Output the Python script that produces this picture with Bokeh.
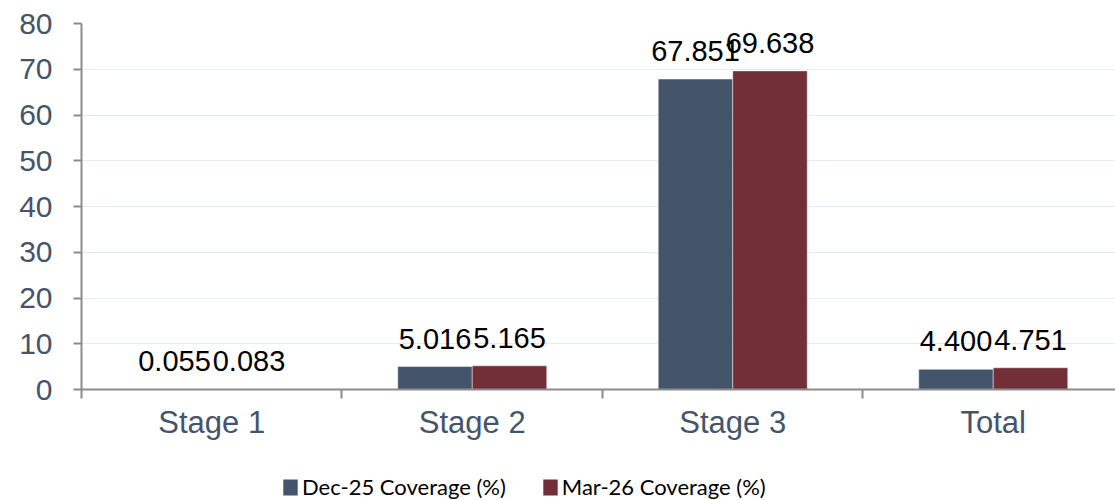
from bokeh.plotting import figure
from bokeh.layouts import column
from bokeh.models import (Range1d, FixedTicker, ColumnDataSource, LabelSet,
                          Legend, LegendItem)
from bokeh.core.properties import value
from bokeh.transform import dodge
from bokeh.embed import file_html
from bokeh.resources import INLINE

# Coverage by stage, two reporting dates
categories = ["Stage 1", "Stage 2", "Stage 3", "Total"]
dec25 = [0.055, 5.016, 67.851, 4.400]
mar26 = [0.083, 5.165, 69.638, 4.751]
series_names = ["Dec-25 Coverage (%)", "Mar-26 Coverage (%)"]
y_ticks = [0, 10, 20, 30, 40, 50, 60, 70, 80]

DEC_COLOR = "#44546a"
MAR_COLOR = "#722f37"
AXIS_COLOR = "#8c8c8c"
TICK_TEXT = "#44546a"
BAR_W = 0.286

centers = [i + 0.5 for i in range(len(categories))]
bounds = [float(i) for i in range(len(categories))]

src = ColumnDataSource(dict(
    x=centers,
    dec=dec25,
    mar=mar26,
    dec_lbl=[f"{v:.3f}" for v in dec25],
    mar_lbl=[f"{v:.3f}" for v in mar26],
))

p = figure(width=1115, height=460, output_backend="svg", toolbar_location=None,
           x_range=Range1d(0, 3.9693), y_range=Range1d(0, 80),
           min_border_left=81, min_border_right=0, min_border_top=23,
           min_border_bottom=71)
p.outline_line_color = None
p.background_fill_color = "white"
p.border_fill_color = "white"

bar_line = dict(line_color="white", line_alpha=0.45, line_width=1)
r_dec = p.vbar(x=dodge("x", -BAR_W / 2), top="dec", width=BAR_W, source=src,
               fill_color=DEC_COLOR, **bar_line)
r_mar = p.vbar(x=dodge("x", BAR_W / 2), top="mar", width=BAR_W, source=src,
               fill_color=MAR_COLOR, **bar_line)

label_style = dict(text_font=value("Liberation Sans"), text_font_size=value("29px"),
                   text_color="#000000", text_align="center",
                   text_baseline="alphabetic", y_offset=18)
p.add_layout(LabelSet(x=dodge("x", -BAR_W / 2), y="dec", text="dec_lbl",
                      source=src, **label_style))
p.add_layout(LabelSet(x=dodge("x", BAR_W / 2), y="mar", text="mar_lbl",
                      source=src, **label_style))

# grid
p.xgrid.grid_line_color = None
p.ygrid.ticker = FixedTicker(ticks=y_ticks)
p.ygrid.grid_line_color = "#e6eaf3"
p.ygrid.grid_line_width = 1

# y axis
p.yaxis.ticker = FixedTicker(ticks=y_ticks)
p.yaxis.axis_line_color = AXIS_COLOR
p.yaxis.axis_line_width = 2
p.yaxis.major_tick_line_color = AXIS_COLOR
p.yaxis.major_tick_line_width = 2
p.yaxis.major_tick_out = 8
p.yaxis.major_tick_in = 0
p.yaxis.minor_tick_line_color = None
p.yaxis.major_label_text_font = "Liberation Sans"
p.yaxis.major_label_text_font_size = "30px"
p.yaxis.major_label_text_color = TICK_TEXT
p.yaxis.major_label_standoff = 21

# x axis: labels at category centres, ticks at category boundaries
p.xaxis.ticker = FixedTicker(ticks=centers, minor_ticks=bounds)
p.xaxis.major_label_overrides = {c: name for c, name in zip(centers, categories)}
p.xaxis.axis_line_color = AXIS_COLOR
p.xaxis.axis_line_width = 2
p.xaxis.major_tick_line_color = None
p.xaxis.major_tick_out = 0
p.xaxis.major_tick_in = 0
p.xaxis.minor_tick_line_color = AXIS_COLOR
p.xaxis.minor_tick_line_width = 2
p.xaxis.minor_tick_out = 9
p.xaxis.minor_tick_in = 0
p.xaxis.major_label_text_font = "Liberation Sans"
p.xaxis.major_label_text_font_size = "31px"
p.xaxis.major_label_text_color = TICK_TEXT
p.xaxis.major_label_standoff = 6

# legend strip underneath the chart (its frame lines up with the chart frame);
# the key renderers sit outside the strip's range so only their swatches show
leg_fig = figure(width=1115, height=40, output_backend="svg", toolbar_location=None,
                 x_range=Range1d(0, 1), y_range=Range1d(0, 1),
                 x_axis_type=None, y_axis_type=None, min_border=0)
leg_fig.outline_line_color = None
leg_fig.border_fill_color = "white"
k_dec = leg_fig.vbar(x=[5], top=[1], width=0.1, fill_color=DEC_COLOR, line_color=None)
k_mar = leg_fig.vbar(x=[5], top=[1], width=0.1, fill_color=MAR_COLOR, line_color=None)

legend = Legend(
    items=[LegendItem(label=series_names[0], renderers=[k_dec]),
           LegendItem(label=series_names[1], renderers=[k_mar])],
    location=(200, 0), orientation="horizontal",
    glyph_width=18, glyph_height=20, label_standoff=3, spacing=35,
    padding=0, margin=0, border_line_color=None, background_fill_alpha=0,
    label_text_font="Lato", label_text_font_size="22px",
    label_text_color="#000000",
)
leg_fig.add_layout(legend)

open("out.html", "w").write(file_html(column(p, leg_fig, spacing=0), INLINE))
